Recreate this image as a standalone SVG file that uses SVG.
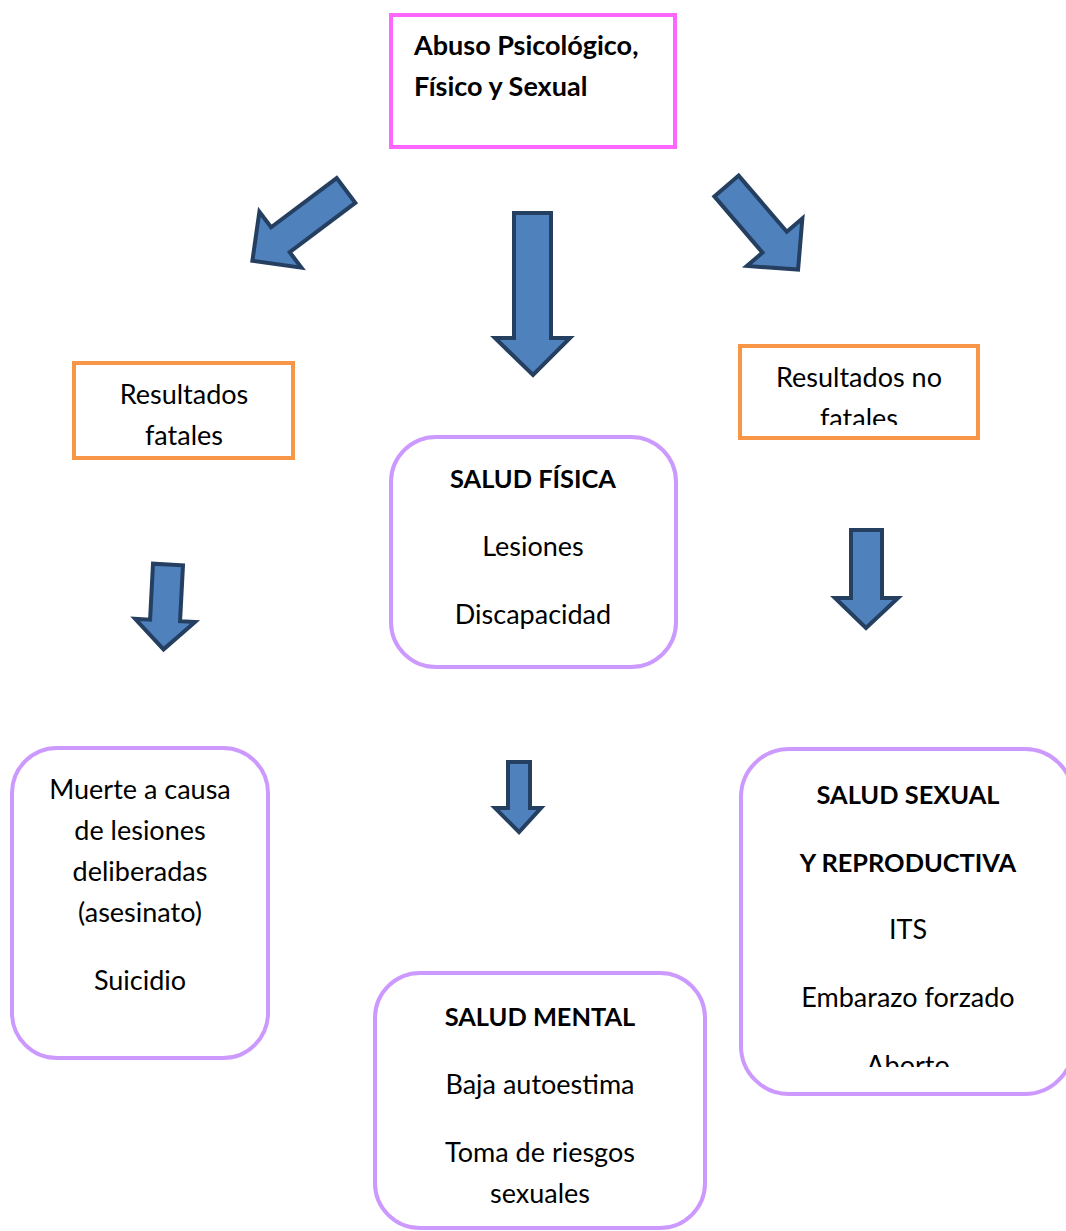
<svg xmlns="http://www.w3.org/2000/svg" width="1066" height="1231" viewBox="0 0 1066 1231">
<style>
.t{font-family:Lato,"Open Sans","Liberation Sans",sans-serif;font-size:27px;fill:#000;text-anchor:middle}
.b{font-weight:bold}
.cap{font-size:25.4px}
.l{text-anchor:start}
.arr{fill:#4F81BD;stroke:#243F60;stroke-width:4;stroke-linejoin:miter}
.org{fill:#fff;stroke:#F79646;stroke-width:4}
.lav{fill:#fff;stroke:#CC99FF;stroke-width:4}
</style>
<defs>
<clipPath id="c1"><rect x="742" y="348" width="234" height="77"/></clipPath>
<clipPath id="c2"><rect x="743" y="751" width="330" height="316"/></clipPath>
</defs>
<rect width="1066" height="1231" fill="#fff"/>
<g id="connectors">
<polygon class="arr" transform="translate(346,190.5) rotate(143.13)" points="0,-15.5 82,-15.5 82,-35 117,0 82,35 82,15.5 0,15.5"/>
<polygon class="arr" transform="translate(726.5,186) rotate(49.4)" points="0,-16 74,-16 74,-36.5 110,0 74,36.5 74,16 0,16"/>
<polygon class="arr" points="514,213 551,213 551,338 570,338 533,375 495,338 514,338"/>
<polygon class="arr" transform="translate(168,564.5) rotate(93)" points="0,-15 56,-15 56,-30 85,0 56,30 56,15 0,15"/>
<polygon class="arr" points="851,530 882,530 882,598 898,598 866,628 835,598 851,598"/>
<polygon class="arr" points="508,762 530,762 530,808 541,808 519,832 495,808 508,808"/>
</g>
<g id="n-abuso">
<rect x="391" y="15" width="284" height="132" fill="#fff" stroke="#FF66FF" stroke-width="4"/>
<text class="t b l" x="414" y="55">Abuso Psicológico,</text>
<text class="t b l" x="414" y="96">Físico y Sexual</text>
</g>
<g id="n-fatales">
<rect class="org" x="74" y="363" width="219" height="95"/>
<text class="t" x="184" y="404">Resultados</text>
<text class="t" x="184" y="445">fatales</text>
</g>
<g id="n-nofatales">
<rect class="org" x="740" y="346" width="238" height="92"/>
<g clip-path="url(#c1)">
<text class="t" x="859" y="387">Resultados no</text>
<text class="t" x="859" y="428">fatales</text>
</g>
</g>
<g id="n-fisica">
<rect class="lav" x="391" y="437" width="285" height="230" rx="45"/>
<text class="t b cap" x="533" y="488">SALUD FÍSICA</text>
<text class="t" x="533" y="556">Lesiones</text>
<text class="t" x="533" y="624">Discapacidad</text>
</g>
<g id="n-muerte">
<rect class="lav" x="12" y="748" width="256" height="310" rx="45"/>
<text class="t" x="140" y="799">Muerte a causa</text>
<text class="t" x="140" y="840">de lesiones</text>
<text class="t" x="140" y="881">deliberadas</text>
<text class="t" x="140" y="922">(asesinato)</text>
<text class="t" x="140" y="990">Suicidio</text>
</g>
<g id="n-mental">
<rect class="lav" x="375" y="973" width="330" height="255" rx="45"/>
<text class="t b cap" x="540" y="1026">SALUD MENTAL</text>
<text class="t" x="540" y="1094">Baja autoestima</text>
<text class="t" x="540" y="1162">Toma de riesgos</text>
<text class="t" x="540" y="1203">sexuales</text>
</g>
<g id="n-sexual">
<rect class="lav" x="741" y="749" width="332" height="345" rx="48"/>
<g clip-path="url(#c2)">
<text class="t b cap" x="908" y="804">SALUD SEXUAL</text>
<text class="t b cap" x="908" y="872">Y REPRODUCTIVA</text>
<text class="t" x="908" y="939">ITS</text>
<text class="t" x="908" y="1007">Embarazo forzado</text>
<text class="t" x="908" y="1075">Aborto</text>
</g>
</g>
</svg>
